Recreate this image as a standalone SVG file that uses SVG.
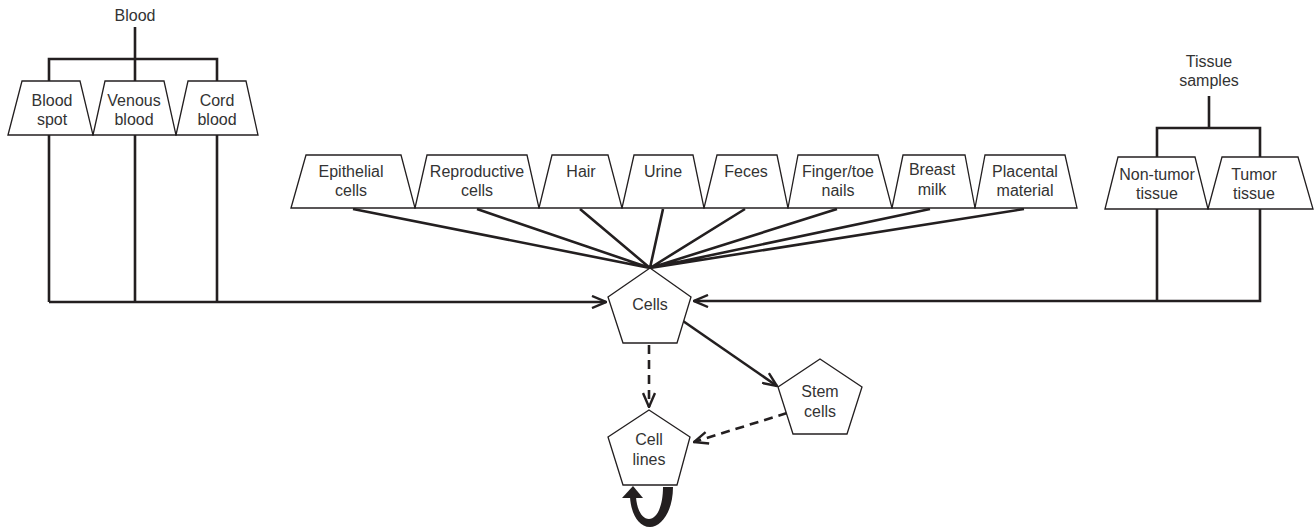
<svg xmlns="http://www.w3.org/2000/svg" width="1316" height="527" viewBox="0 0 1316 527">
<defs>
<style>
.box{fill:#fff;stroke:#231f20;stroke-width:1.3;stroke-linejoin:miter}
.t{font-family:"Liberation Sans",Arial,sans-serif;font-size:16px;fill:#333;text-anchor:middle}
.c{fill:none;stroke:#231f20;stroke-width:2.6;stroke-linejoin:miter}
.d{fill:none;stroke:#231f20;stroke-width:2.6;stroke-dasharray:9 6}
</style>
<marker id="ah" viewBox="0 0 16 14" refX="15" refY="7" markerWidth="16" markerHeight="14" markerUnits="userSpaceOnUse" orient="auto">
<path d="M1,1 L15,7 L1,13" fill="none" stroke="#231f20" stroke-width="2.4"/>
</marker>
</defs>
<rect width="1316" height="527" fill="#fff"/>

<g id="connectors">
<!-- Blood tree -->
<path class="c" d="M135,27 V59 M49,81 V59 H217 V81 M135,59 V81"/>
<!-- Tissue tree -->
<path class="c" d="M1209,96 V128 M1157,157 V128 H1260 V157"/>
<!-- blood down to cells -->
<path class="c" d="M49,135 V302 M135,135 V302 M217,135 V302"/>
<path class="c" d="M49,302 H606" marker-end="url(#ah)"/>
<!-- tissue down to cells -->
<path class="c" d="M1157,209 V301 M1260,209 V301 H694" marker-end="url(#ah)"/>
<!-- sample lines converging -->
<path class="c" d="M353,209 L650,268 M477,209 L650,268 M580,209 L650,268 M663,209 L650,268 M745,209 L650,268 M837,209 L650,268 M930,209 L650,268 M1024,209 L650,268"/>
<!-- cells to stem cells -->
<path class="c" d="M683,321 L777,386" marker-end="url(#ah)"/>
<!-- dashed -->
<path class="d" d="M649,345 V407" marker-end="url(#ah)"/>
<path class="d" d="M787,413 L694,442" marker-end="url(#ah)"/>
<!-- self loop -->
<path d="M663,487 L673,487 C673,512 661,527 650,527 C638,527 631,513 630,497 L636,497 C637,510 642,519 649,519 C657,519 663,506 663,487 Z" fill="#231f20"/>
<polygon points="622,498 643,498 633,486" fill="#231f20"/>
</g>

<g id="blood-label"><text class="t" x="135" y="21">Blood</text></g>
<g id="tissue-label"><text class="t" x="1209" y="67">Tissue</text><text class="t" x="1209" y="86">samples</text></g>

<g id="blood-spot"><polygon class="box" points="8,135 22,81 80,81 93,135"/><text class="t" x="52" y="106">Blood</text><text class="t" x="52" y="125">spot</text></g>
<g id="venous-blood"><polygon class="box" points="93,135 105,81 164,81 176,135"/><text class="t" x="134" y="106">Venous</text><text class="t" x="134" y="125">blood</text></g>
<g id="cord-blood"><polygon class="box" points="176,135 188,81 246,81 258,135"/><text class="t" x="217" y="106">Cord</text><text class="t" x="217" y="125">blood</text></g>

<g id="epithelial"><polygon class="box" points="291,208 306,155 401,155 415,208"/><text class="t" x="351" y="177">Epithelial</text><text class="t" x="351" y="196">cells</text></g>
<g id="reproductive"><polygon class="box" points="415,208 427,155 527,155 539,208"/><text class="t" x="477" y="177">Reproductive</text><text class="t" x="477" y="196">cells</text></g>
<g id="hair"><polygon class="box" points="539,208 552,155 608,155 622,208"/><text class="t" x="581" y="177">Hair</text></g>
<g id="urine"><polygon class="box" points="622,208 634,155 693,155 704,208"/><text class="t" x="663" y="177">Urine</text></g>
<g id="feces"><polygon class="box" points="704,208 717,155 777,155 788,208"/><text class="t" x="746" y="177">Feces</text></g>
<g id="nails"><polygon class="box" points="788,208 798,155 878,155 892,208"/><text class="t" x="838" y="177">Finger/toe</text><text class="t" x="838" y="196">nails</text></g>
<g id="breast-milk"><polygon class="box" points="892,208 903,155 965,155 975,208"/><text class="t" x="932" y="175">Breast</text><text class="t" x="932" y="195">milk</text></g>
<g id="placental"><polygon class="box" points="975,208 985,155 1065,155 1077,208"/><text class="t" x="1025" y="177">Placental</text><text class="t" x="1025" y="196">material</text></g>

<g id="non-tumor"><polygon class="box" points="1105,209 1118,157 1195,157 1208,209"/><text class="t" x="1157" y="180">Non-tumor</text><text class="t" x="1157" y="199">tissue</text></g>
<g id="tumor"><polygon class="box" points="1208,209 1222,157 1298,157 1313,209"/><text class="t" x="1254" y="180">Tumor</text><text class="t" x="1254" y="199">tissue</text></g>

<g id="cells"><polygon class="box" points="650,268 691,297 677,343 623,343 608,297"/><text class="t" x="650" y="310">Cells</text></g>
<g id="stem-cells"><polygon class="box" points="820,359 862,387 847,434 793,434 778,387"/><text class="t" x="820" y="397">Stem</text><text class="t" x="820" y="417">cells</text></g>
<g id="cell-lines"><polygon class="box" points="649,410 690,437 677,485 623,485 608,437"/><text class="t" x="649" y="445">Cell</text><text class="t" x="649" y="465">lines</text></g>
</svg>
